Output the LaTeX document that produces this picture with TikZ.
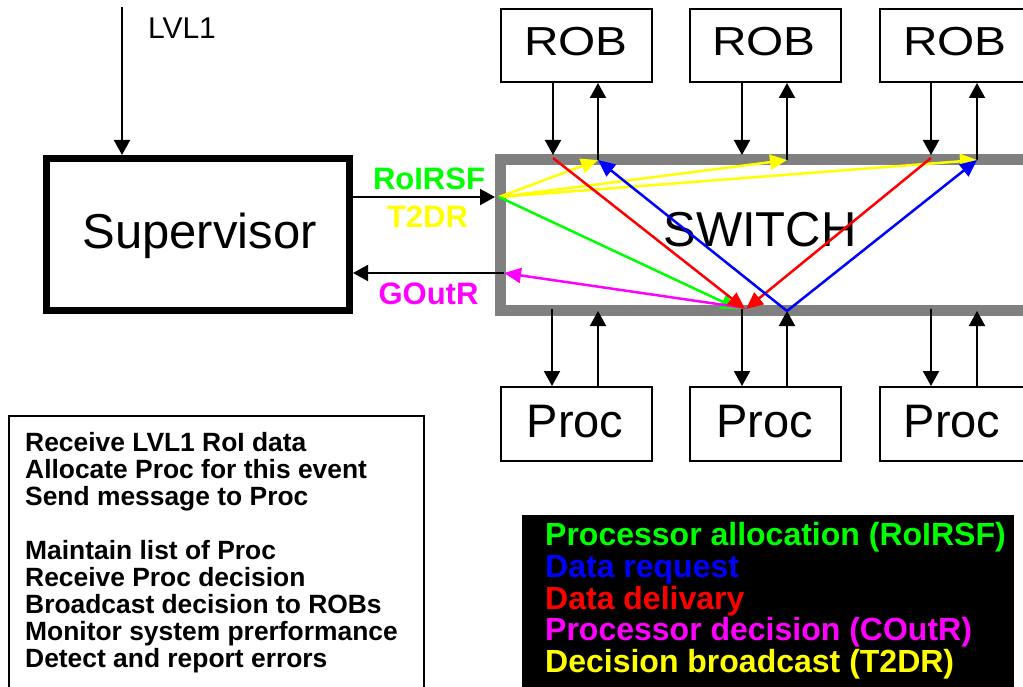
\documentclass[tikz,border=0pt]{standalone}
\usepackage{fontspec}
\setmainfont{Liberation Sans}
\usetikzlibrary{arrows.meta}
\definecolor{swgray}{HTML}{808080}
\definecolor{cgreen}{HTML}{00FF00}
\definecolor{cblue}{HTML}{0000FF}
\definecolor{cred}{HTML}{FF0000}
\definecolor{cmag}{HTML}{FF00FF}
\definecolor{cyel}{HTML}{FFFF00}
\begin{document}
\begin{tikzpicture}[x=1pt,y=-1pt,
  unitbox/.style={draw=black, line width=2pt, rectangle, inner sep=0pt, outer sep=1pt,
                  minimum width=151pt, minimum height=73pt},
  supbox/.style={draw=black, line width=7pt, rectangle, inner sep=0pt, outer sep=3.5pt,
                 minimum width=303pt, minimum height=152pt},
  swbox/.style={draw=swgray, line width=11pt, rectangle, inner sep=0pt, outer sep=5.5pt,
                minimum width=549.5pt, minimum height=151pt},
  bigtxt/.style={font=\fontsize{49}{49}\selectfont, inner sep=0pt, anchor=base},
  robtxt/.style={font=\fontsize{40.5}{40}\selectfont, inner sep=0pt, anchor=base},
  proctxt/.style={font=\fontsize{47}{47}\selectfont, inner sep=0pt, anchor=base},
  lbl/.style={font=\fontsize{31}{31}\selectfont\bfseries, inner sep=0pt, anchor=base},
  tasktxt/.style={font=\fontsize{26.4}{27}\selectfont\bfseries, inner sep=0pt, anchor=base west},
  legtxt/.style={font=\fontsize{32}{32}\selectfont\bfseries, inner sep=0pt, anchor=base west},
  blk/.style={draw=black, line width=2pt, -{Triangle[length=15pt,width=16pt]}},
  flow/.style={line width=2.5pt, -{Triangle[length=17pt,width=15pt]}}
]
\useasboundingbox (0,0) rectangle (1023,687);
\clip (0,0) rectangle (1023,687);

% supervisor and switch
\node[supbox] (sup) at (198,234.5) {};
\node[bigtxt] (suptxt) at (199.5,248) {Supervisor};
\node[swbox] (sw) at (775.25,235) {};
\node[bigtxt] (swtxt) at (760,247) {SWITCH};

% read-out buffers
\node[unitbox] (rob1) at (576,45.5) {};
\node[unitbox] (rob2) at (765,45.5) {};
\node[unitbox] (rob3) at (955,45.5) {};
\node[robtxt] (rob1t) at (576,56) {\scalebox{1.18}[1]{ROB}};
\node[robtxt] (rob2t) at (764,56) {\scalebox{1.18}[1]{ROB}};
\node[robtxt] (rob3t) at (955,56) {\scalebox{1.18}[1]{ROB}};

% processors
\node[unitbox, minimum height=74pt] (proc1) at (576,424) {};
\node[unitbox, minimum height=74pt] (proc2) at (765,424) {};
\node[unitbox, minimum height=74pt] (proc3) at (955,424) {};
\node[proctxt] (proc1t) at (575,437) {Proc};
\node[proctxt] (proc2t) at (764.5,437) {Proc};
\node[proctxt] (proc3t) at (952,437) {Proc};

% port coordinates on the switch
\coordinate (r1d) at (553,155); \coordinate (r1u) at (598,160);
\coordinate (r2d) at (742,155); \coordinate (r2u) at (787,160);
\coordinate (r3d) at (931,155); \coordinate (r3u) at (977,160);
\coordinate (p1d) at (552,309); \coordinate (p1u) at (598,311);
\coordinate (p2d) at (742,309); \coordinate (p2u) at (787,311);
\coordinate (p3d) at (931,309); \coordinate (p3u) at (977,311);
\coordinate (S) at (499,197);
\coordinate (gin) at (504,273);
\coordinate (lvl) at (122,7);

% LVL1 input
\draw[blk] (lvl) -- (lvl |- sup.north);
\node[font=\fontsize{30}{30}\selectfont, inner sep=0pt, anchor=base] (lvltxt) at (182,39) {LVL1};

% supervisor <-> switch
\draw[blk] (sup.east |- S) -- (sw.west |- S);
\draw[blk] (gin) -- (sup.east |- gin);
\node[lbl, text=cgreen] (l1) at (429,190) {RoIRSF};
\node[lbl, text=cyel] (l2) at (427.5,228) {T2DR};
\node[lbl, text=cmag] (l3) at (428.5,304) {GOutR};

% ROB and Proc links
\foreach \k in {1,2,3} {
  \draw[blk] (rob\k.south -| r\k d) -- (r\k d);
  \draw[blk] (r\k u) -- (r\k u |- rob\k.south);
  \draw[blk] (p\k d) -- (p\k d |- proc\k.north);
  \draw[blk] (p\k u |- proc\k.north) -- (p\k u);
}

% message flows through the switch
\draw[flow, cyel] (S) -- (r1u);
\draw[flow, cyel] (S) -- (r2u);
\draw[flow, cyel] (S) -- (r3u);
\draw[flow, cgreen] (S) -- ([xshift=-4pt]p2d);
\draw[flow, cmag] ([xshift=-4pt,yshift=2pt]p2d) -- (gin);
\draw[flow, cred] ([yshift=-3pt]r1d) -- ([xshift=3pt]p2d);
\draw[flow, cred] ([yshift=-3pt]r3d) -- ([xshift=4pt]p2d);
\draw[flow, cblue] (p2u) -- (r1u);
\draw[flow, cblue] (p2u) -- (r3u);

% supervisor task list
\node[draw=black, line width=2pt, rectangle, inner sep=0pt, minimum width=415pt,
      minimum height=300pt] (tasks) at (216.5,566) {};
\foreach \k/\txt in {0/Receive LVL1 RoI data, 1/Allocate Proc for this event,
    2/Send message to Proc, 4/Maintain list of Proc, 5/Receive Proc decision,
    6/Broadcast decision to ROBs, 7/Monitor system prerformance,
    8/Detect and report errors}
  \node[tasktxt] (task\k) at (25,{451+27*\k}) {\txt};

% legend
\node[fill=black, rectangle, inner sep=0pt, minimum width=492pt, minimum height=185pt]
  (legend) at (768,607.5) {};
\foreach \k/\c/\txt in {0/cgreen/Processor allocation (RoIRSF), 1/cblue/Data request,
    2/cred/Data delivary, 3/cmag/Processor decision (COutR),
    4/cyel/Decision broadcast (T2DR)}
  \node[legtxt, text=\c] (leg\k) at (545,{545.5+31.8*\k}) {\txt};
\end{tikzpicture}
\end{document}
